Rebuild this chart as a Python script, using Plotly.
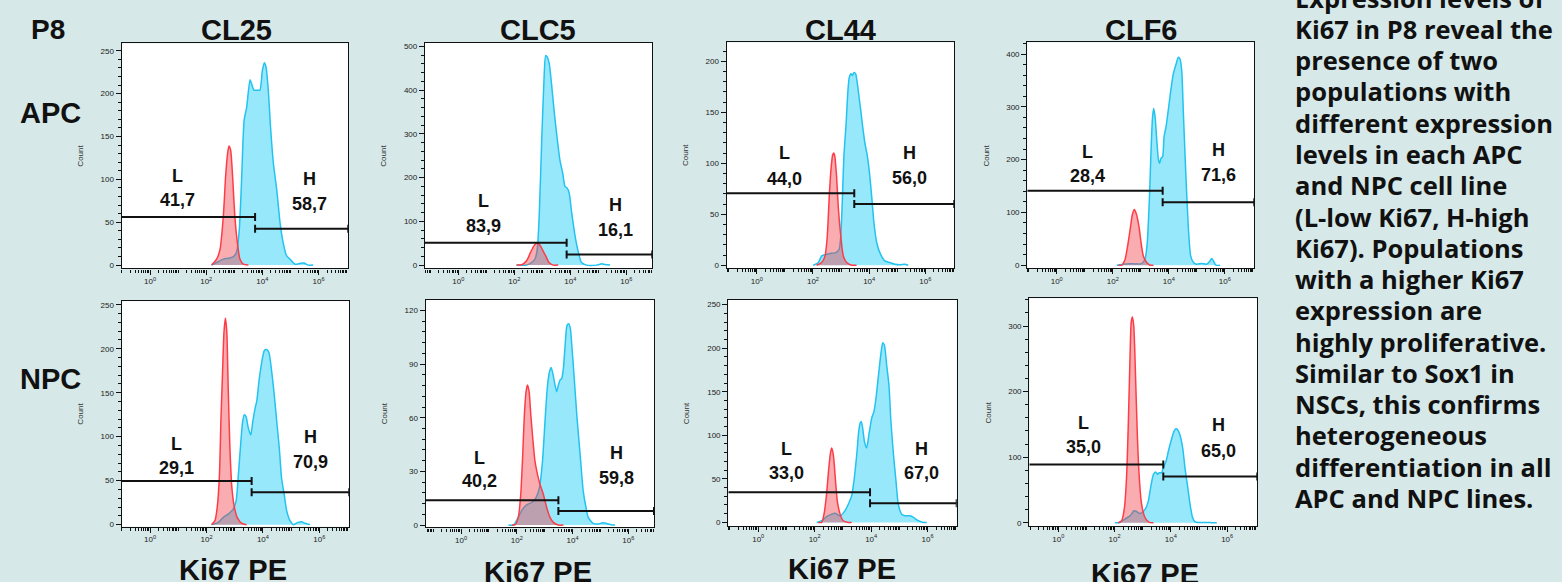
import plotly.graph_objects as go

W, H = 1562, 582
BG = "#d6e8e8"

# ---------------- data (x in log10 units of Ki67 PE, y = count) ----------------
CL25_APC_RED_LOGX = [2.19, 2.37, 2.49, 2.61, 2.69, 2.76, 2.81, 2.87, 2.94, 3.02, 3.11, 3.20, 3.32, 3.50]
CL25_APC_RED_COUNT = [0, 7, 18, 57, 103, 130, 139, 134, 103, 57, 26, 7, 1, 0]
CL25_APC_BLUE_LOGX = [2.19, 2.37, 2.61, 2.79, 2.97, 3.08, 3.18, 3.26, 3.35, 3.44, 3.56, 3.62, 3.70, 3.80, 3.91,
                      4.00, 4.07, 4.13, 4.21, 4.29, 4.39, 4.51, 4.63, 4.74, 4.86, 4.98, 5.16, 5.34, 5.48, 5.63, 5.81]
CL25_APC_BLUE_COUNT = [0, 3, 7, 8, 10, 15, 42, 100, 169, 184, 216, 211, 204, 204, 204,
                       227, 236, 231, 204, 161, 119, 88, 49, 26, 11, 7, 1, 2, 2.5, 0, 0]

CL25_NPC_RED_LOGX = [2.18, 2.30, 2.38, 2.46, 2.51, 2.57, 2.62, 2.67, 2.72, 2.77, 2.83, 2.90, 2.99, 3.09, 3.25, 3.42]
CL25_NPC_RED_COUNT = [0, 4.5, 19.6, 57, 117, 174, 219, 235, 219, 155, 87, 42, 19.6, 8, 1.5, 0]
CL25_NPC_BLUE_LOGX = [2.18, 2.42, 2.60, 2.77, 2.95, 3.05, 3.13, 3.21, 3.28, 3.34, 3.40, 3.48, 3.57, 3.64, 3.72, 3.78, 3.86,
                      3.96, 4.05, 4.13, 4.21, 4.31, 4.40, 4.49, 4.58, 4.66, 4.75, 4.84, 4.96, 5.08, 5.25, 5.37, 5.49, 5.67]
CL25_NPC_BLUE_COUNT = [0, 2.6, 8.3, 12, 17.7, 27, 57, 91, 117, 125, 123, 110, 102, 117, 132, 140, 163,
                       185, 198, 199, 196, 174, 148, 117, 87, 53, 35, 16, 4.5, 0, 2.6, 3.4, 1.5, 0]

CLC5_APC_RED_LOGX = [2.08, 2.26, 2.44, 2.58, 2.70, 2.80, 2.89, 3.00, 3.12, 3.24, 3.39, 3.57]
CLC5_APC_RED_COUNT = [0, 1, 10, 29, 44, 50, 48, 36, 21, 6, 0, 0]
CLC5_APC_BLUE_LOGX = [2.08, 2.44, 2.62, 2.74, 2.82, 2.89, 2.98, 3.06, 3.12, 3.18, 3.25, 3.33, 3.42, 3.51, 3.63, 3.73,
                      3.81, 3.89, 3.96, 4.05, 4.17, 4.29, 4.40, 4.58, 4.94, 5.12, 5.24, 5.42]
CLC5_APC_BLUE_COUNT = [0, 0, 6, 14, 36, 112, 286, 422, 479, 475, 460, 414, 354, 301, 240, 210,
                       180, 176, 165, 120, 67, 29, 6, 0, 0, 3, 1.5, 0]

CLC5_NPC_RED_LOGX = [1.82, 1.94, 2.05, 2.14, 2.21, 2.27, 2.33, 2.38, 2.44, 2.50, 2.57, 2.65, 2.74, 2.83, 2.95,
                     3.07, 3.19, 3.31, 3.49, 3.67]
CLC5_NPC_RED_COUNT = [0, 0.2, 4.3, 17.2, 39.4, 61.7, 74.6, 78.3, 74.6, 61.7, 48.7, 35.7, 28.3, 22.8, 17.2,
                      9.8, 4.3, 1.5, 0, 0]
CLC5_NPC_BLUE_LOGX = [1.70, 1.88, 2.05, 2.17, 2.35, 2.53, 2.69, 2.81, 2.92, 3.01, 3.09, 3.17, 3.23, 3.29, 3.37, 3.43,
                      3.49, 3.55, 3.61, 3.67, 3.74, 3.80, 3.86, 3.92, 3.98, 4.05, 4.15, 4.27, 4.38, 4.48, 4.56,
                      4.74, 4.92, 5.08, 5.22, 5.38, 5.52]
CLC5_NPC_BLUE_COUNT = [0, 0, 4.3, 8, 11.3, 12.6, 15.4, 20.9, 35.7, 58, 76.5, 85.7, 88.1, 84.8, 78.3, 74.6,
                       78.3, 81.1, 82, 87.6, 102.4, 111.7, 112.6, 109.8, 98.7, 83.9, 61.7, 39.4, 19.1, 9.8, 4.3,
                       0.9, 0.6, 1.3, 0.9, 0.2, 0]

CL44_APC_RED_LOGX = [2.13, 2.31, 2.43, 2.51, 2.58, 2.64, 2.70, 2.74, 2.78, 2.84, 2.90, 2.99, 3.08, 3.20, 3.38, 3.55]
CL44_APC_RED_COUNT = [0, 2.6, 9.1, 28.6, 67.5, 93.5, 108, 110, 106.5, 87, 57.8, 28.6, 9.1, 2.6, 0, 0]
CL44_APC_BLUE_LOGX = [2.01, 2.19, 2.31, 2.49, 2.67, 2.82, 2.93, 2.99, 3.05, 3.10, 3.18, 3.23, 3.29, 3.35, 3.40, 3.46,
                      3.52, 3.58, 3.64, 3.70, 3.77, 3.85, 3.93, 4.00, 4.09, 4.17, 4.27, 4.38, 4.56, 4.74, 4.92,
                      5.09, 5.27, 5.39]
CL44_APC_BLUE_COUNT = [0, 2.6, 9.1, 10.7, 11.7, 12.3, 15.6, 28.6, 67.5, 106.5, 139, 165, 184, 187.7, 186, 189,
                       187.7, 178, 165, 152, 135.7, 119.5, 108, 93.5, 67.5, 41.6, 22, 12.3, 4.2, 2.6, 1,
                       0.5, 1, 0]

CL44_NPC_RED_LOGX = [2.13, 2.25, 2.33, 2.42, 2.49, 2.55, 2.60, 2.66, 2.73, 2.80, 2.90, 3.01, 3.19, 3.31]
CL44_NPC_RED_COUNT = [0, 0, 9.5, 32.3, 58.9, 77.9, 85.5, 77.9, 51.3, 24.7, 9.5, 1.9, 0, 0]
CL44_NPC_BLUE_LOGX = [2.07, 2.25, 2.42, 2.60, 2.72, 2.90, 3.07, 3.19, 3.31, 3.39, 3.49, 3.56, 3.61, 3.65, 3.70, 3.76,
                      3.84, 3.92, 4.02, 4.10, 4.17, 4.26, 4.34, 4.41, 4.47, 4.55, 4.63, 4.70, 4.79, 4.88, 4.96,
                      5.08, 5.20, 5.38, 5.50, 5.67, 5.85, 5.97]
CL44_NPC_BLUE_COUNT = [0, 1.9, 6.5, 9.5, 10.6, 7.6, 13.3, 20.9, 30.4, 47.5, 77.9, 104.5, 114, 115.9, 108.3, 93.1,
                       85.5, 100.7, 119.7, 127.3, 142.5, 169.1, 191.9, 206.3, 203.3, 180.5, 157.7, 115.9, 77.9, 47.5,
                       20.9, 9.5, 7.6, 7.6, 5.7, 1.9, 0, 0]

CLF6_APC_RED_LOGX = [2.20, 2.32, 2.44, 2.53, 2.62, 2.70, 2.77, 2.83, 2.89, 2.95, 3.01, 3.09, 3.21, 3.33, 3.45]
CLF6_APC_RED_COUNT = [0, 0, 11.3, 36.4, 67.7, 95.9, 105.3, 99, 86.5, 67.7, 42.6, 17.6, 5, 0, 0]
CLF6_APC_BLUE_LOGX = [2.14, 2.32, 2.62, 2.85, 3.03, 3.15, 3.23, 3.31, 3.37, 3.42, 3.46, 3.51, 3.57, 3.63, 3.67, 3.72,
                      3.78, 3.83, 3.90, 3.98, 4.07, 4.16, 4.26, 4.34, 4.40, 4.46, 4.52, 4.60, 4.70, 4.78, 4.88,
                      4.99, 5.17, 5.35, 5.47, 5.53, 5.59, 5.68, 5.83]
CLF6_APC_BLUE_COUNT = [0, 1.5, 2.5, 2.5, 3, 11.3, 42.6, 130.4, 224.5, 281, 296.6, 281, 237, 199.4, 193, 202.5,
                       205.7, 243.3, 262, 293.4, 331, 362.4, 381.2, 393.8, 390.6, 368.7, 287.2, 180.6, 67.7, 17.6, 5,
                       1.9, 3.1, 1.9, 8.2, 12.5, 8.2, 0, 0]

CLF6_NPC_RED_LOGX = [2.13, 2.25, 2.35, 2.43, 2.49, 2.55, 2.59, 2.63, 2.68, 2.74, 2.80, 2.87, 2.96, 3.08, 3.23, 3.38]
CLF6_NPC_RED_COUNT = [0, 3, 23.2, 73.7, 154.5, 255.5, 306, 313.6, 301, 230, 144.4, 73.7, 28.3, 8, 0.5, 0]
CLF6_NPC_BLUE_LOGX = [2.01, 2.19, 2.37, 2.55, 2.69, 2.78, 2.90, 3.02, 3.12, 3.20, 3.28, 3.38, 3.46, 3.53, 3.59, 3.67,
                      3.73, 3.83, 3.91, 4.00, 4.11, 4.18, 4.24, 4.32, 4.42, 4.50, 4.60, 4.68, 4.77, 4.86, 4.98,
                      5.15, 5.33, 5.45, 5.63]
CLF6_NPC_BLUE_COUNT = [0, 0.5, 5.6, 10.6, 18.2, 17.2, 14.1, 17.2, 23.2, 33.3, 53.5, 73.7, 77.3, 73.7, 76.3, 76.3,
                       83.8, 94, 109, 124, 139.4, 143.4, 142, 134.3, 114, 83.8, 53.5, 28.3, 8, 1.5, 0.5,
                       0.5, 0.5, 0, 0]

# gates: threshold (log10), L gate level, H gate level
GATE_THRESHOLD_LOG = [3.74, 3.60, 3.87, 3.49, 3.47, 3.96, 3.78, 3.73]
GATE_L_LEVEL = [56, 49.7, 51.4, 13.9, 70.5, 34.6, 141, 88.9]
GATE_H_LEVEL = [42.4, 36.9, 24.2, 7.8, 60, 22, 119, 70.7]
PCT_L = ["41,7", "29,1", "83,9", "40,2", "44,0", "33,0", "28,4", "35,0"]
PCT_H = ["58,7", "70,9", "16,1", "59,8", "56,0", "67,0", "71,6", "65,0"]

CELL_LINES = ["CL25", "CLC5", "CL44", "CLF6"]
ROW_LABELS = ["APC", "NPC"]
X_TITLE = "Ki67 PE"
X_TICK_DECADES = [0, 2, 4, 6]

PARAGRAPH = ["Expression levels of", "Ki67 in P8 reveal the", "presence of two", "populations with",
             "different expression", "levels in each APC", "and NPC cell line", "(L-low Ki67, H-high",
             "Ki67). Populations", "with a higher Ki67", "expression are", "highly proliferative.",
             "Similar to Sox1 in", "NSCs, this confirms", "heterogeneous", "differentiation in all",
             "APC and NPC lines."]

RED = [(CL25_APC_RED_LOGX, CL25_APC_RED_COUNT), (CL25_NPC_RED_LOGX, CL25_NPC_RED_COUNT),
       (CLC5_APC_RED_LOGX, CLC5_APC_RED_COUNT), (CLC5_NPC_RED_LOGX, CLC5_NPC_RED_COUNT),
       (CL44_APC_RED_LOGX, CL44_APC_RED_COUNT), (CL44_NPC_RED_LOGX, CL44_NPC_RED_COUNT),
       (CLF6_APC_RED_LOGX, CLF6_APC_RED_COUNT), (CLF6_NPC_RED_LOGX, CLF6_NPC_RED_COUNT)]
BLUE = [(CL25_APC_BLUE_LOGX, CL25_APC_BLUE_COUNT), (CL25_NPC_BLUE_LOGX, CL25_NPC_BLUE_COUNT),
        (CLC5_APC_BLUE_LOGX, CLC5_APC_BLUE_COUNT), (CLC5_NPC_BLUE_LOGX, CLC5_NPC_BLUE_COUNT),
        (CL44_APC_BLUE_LOGX, CL44_APC_BLUE_COUNT), (CL44_NPC_BLUE_LOGX, CL44_NPC_BLUE_COUNT),
        (CLF6_APC_BLUE_LOGX, CLF6_APC_BLUE_COUNT), (CLF6_NPC_BLUE_LOGX, CLF6_NPC_BLUE_COUNT)]

# ---------------- layout specs (pixel boxes, axis ranges) ----------------
PANELS = [
    dict(box=(121.7, 348.3, 42.7, 269.3), xr=(-1.008, 7.058), yr=(-3.9, 258.5), dt=50, mdt=10,
         lpos=(177.7, 176.7, 200), hpos=(309, 179, 204)),
    dict(box=(121.7, 349.3, 302.3, 529.3), xr=(-1.004, 7.06), yr=(-2.3, 254), dt=50, mdt=10,
         lpos=(176.7, 446, 470), hpos=(310, 439.3, 464)),
    dict(box=(425, 652.3, 42.3, 269.3), xr=(-1.19, 6.93), yr=(-7.6, 507.5), dt=100, mdt=20,
         lpos=(483.3, 201, 226.7), hpos=(615, 205.7, 230.7)),
    dict(box=(425.7, 654, 301, 530), xr=(-1.27, 6.92), yr=(-1.3, 125.9), dt=30, mdt=6,
         lpos=(480, 460, 483.3), hpos=(616.7, 455, 480)),
    dict(box=(726.7, 954.3, 41.7, 269), xr=(-1.07, 7.03), yr=(-2.9, 218.5), dt=50, mdt=10,
         lpos=(784, 153.3, 179.3), hpos=(909.3, 153.3, 178.3)),
    dict(box=(728.3, 956.7, 300.7, 528.7), xr=(-1.06, 7.03), yr=(-4.2, 255.7), dt=50, mdt=10,
         lpos=(786, 451, 475.7), hpos=(921.7, 451, 475.7)),
    dict(box=(1027.3, 1254.3, 41.7, 269), xr=(-1.05, 7.05), yr=(-5.6, 422), dt=100, mdt=20,
         lpos=(1087.7, 151.7, 176.7), hpos=(1218.3, 150, 175.7)),
    dict(box=(1029.3, 1257.3, 299.3, 528.7), xr=(-1.03, 7.07), yr=(-5.05, 342.4), dt=100, mdt=20,
         lpos=(1083.3, 425, 449.3), hpos=(1218.3, 426.7, 452.7)),
]

FONT = "Arial, Liberation Sans, sans-serif"


def px(x):
    return x / W


def py(y):
    return 1 - y / H


fig = go.Figure()
layout = dict(width=W, height=H, margin=dict(l=0, r=0, t=0, b=0), paper_bgcolor=BG,
              plot_bgcolor="white", showlegend=False, font=dict(family=FONT, color="#111"))
shapes = []
annotations = []

major_vals = [10.0 ** k for k in X_TICK_DECADES]
major_text = [f"10<sup>{k}</sup>" for k in X_TICK_DECADES]
minor_vals = [m * 10.0 ** k for k in range(-2, 8) for m in range(1, 10)
              if not (m == 1 and k in X_TICK_DECADES)]

for i, p in enumerate(PANELS):
    n = i + 1
    xa = "x" if n == 1 else f"x{n}"
    ya = "y" if n == 1 else f"y{n}"
    x0, x1, y0, y1 = p["box"]

    bx, bc = BLUE[i]
    fig.add_trace(go.Scatter(x=[10 ** v for v in bx], y=bc, mode="lines", fill="tozeroy",
                             fillcolor="rgba(152,232,252,1)",
                             line=dict(color="#22c3f0", width=1.5, shape="spline", smoothing=0.6),
                             xaxis=xa, yaxis=ya, hoverinfo="skip"))
    rx, rc = RED[i]
    fig.add_trace(go.Scatter(x=[10 ** v for v in rx], y=rc, mode="lines", fill="tozeroy",
                             fillcolor="rgba(240,60,70,0.42)",
                             line=dict(color="#ff3c46", width=1.5, shape="spline", smoothing=0.6),
                             xaxis=xa, yaxis=ya, hoverinfo="skip"))

    layout["xaxis" if n == 1 else f"xaxis{n}"] = dict(
        type="log", domain=[px(x0), px(x1)], range=list(p["xr"]), anchor=ya,
        tickmode="array", tickvals=major_vals, ticktext=major_text,
        ticks="outside", ticklen=5, tickwidth=1, tickcolor="#111",
        showline=True, linecolor="#111", linewidth=1.3, mirror=True,
        showgrid=False, zeroline=False, tickfont=dict(size=8, color="#222", family=FONT),
        minor=dict(tickmode="array", tickvals=minor_vals, ticks="outside", ticklen=3,
                   tickcolor="#111", tickwidth=1, showgrid=False),
        fixedrange=True)
    layout["yaxis" if n == 1 else f"yaxis{n}"] = dict(
        domain=[py(y1), py(y0)], range=list(p["yr"]), anchor=xa,
        tickmode="linear", tick0=0, dtick=p["dt"],
        ticks="outside", ticklen=5, tickwidth=1, tickcolor="#111",
        showline=True, linecolor="#111", linewidth=1.3, mirror=True,
        showgrid=False, zeroline=False, tickfont=dict(size=8, color="#222", family=FONT),
        minor=dict(dtick=p["mdt"], tick0=0, ticks="outside", ticklen=3, tickcolor="#111",
                   tickwidth=1, showgrid=False),
        fixedrange=True)

    # gates
    thr = 10 ** GATE_THRESHOLD_LOG[i]
    lo, hi = 10 ** p["xr"][0], 10 ** p["xr"][1]
    gl, gh = GATE_L_LEVEL[i], GATE_H_LEVEL[i]
    ln = dict(color="#111", width=2)
    shapes.append(dict(type="line", xref=xa, yref=ya, x0=lo, x1=thr, y0=gl, y1=gl, line=ln))
    shapes.append(dict(type="line", xref=xa, yref=ya, x0=thr, x1=hi, y0=gh, y1=gh, line=ln))
    for xc, yc in [(thr, gl), (thr, gh), (hi, gh)]:
        shapes.append(dict(type="line", xref=xa, yref=ya, x0=xc, x1=xc, ysizemode="pixel",
                           yanchor=yc, y0=-4, y1=4, line=ln))

    # gate labels
    lx, ly1, ly2 = p["lpos"]
    hx, hy1, hy2 = p["hpos"]
    for tx, ty, t in [(lx, ly1, "L"), (lx, ly2, PCT_L[i]), (hx, hy1, "H"), (hx, hy2, PCT_H[i])]:
        annotations.append(dict(xref="paper", yref="paper", x=px(tx), y=py(ty), text=f"<b>{t}</b>",
                                showarrow=False, xanchor="center", yanchor="middle",
                                font=dict(size=18, color="#111", family=FONT)))

    # y-axis title
    annotations.append(dict(xref="paper", yref="paper", x=px(x0 - 41), y=py((y0 + y1) / 2), text="Count",
                            textangle=-90, showarrow=False, xanchor="center", yanchor="middle",
                            font=dict(size=8, color="#333", family=FONT)))

# column titles, row labels, x titles
for j, name in enumerate(CELL_LINES):
    cx = [236, 538, 840, 1141][j]
    annotations.append(dict(xref="paper", yref="paper", x=px(cx), y=py(29), text=f"<b>{name}</b>",
                            showarrow=False, xanchor="center", yanchor="middle",
                            font=dict(size=29, color="#111", family=FONT)))
    xty = [573, 575, 572, 577][j]
    xtx = [233, 538, 842, 1145][j]
    annotations.append(dict(xref="paper", yref="paper", x=px(xtx), y=py(xty), text=f"<b>{X_TITLE}</b>",
                            showarrow=False, xanchor="center", yanchor="middle",
                            font=dict(size=29, color="#111", family=FONT)))

annotations.append(dict(xref="paper", yref="paper", x=px(48), y=py(29), text="<b>P8</b>", showarrow=False,
                        xanchor="center", yanchor="middle", font=dict(size=28, color="#111", family=FONT)))
for lab, yy in zip(ROW_LABELS, [112.5, 380.5]):
    annotations.append(dict(xref="paper", yref="paper", x=px(50), y=py(yy), text=f"<b>{lab}</b>",
                            showarrow=False, xanchor="center", yanchor="middle",
                            font=dict(size=29, color="#111", family=FONT)))

for k, line in enumerate(PARAGRAPH):
    annotations.append(dict(xref="paper", yref="paper", x=px(1293), y=py(-3.5 + 31.5 * k), text=f"<b>{line}</b>",
                            showarrow=False, xanchor="left", yanchor="middle",
                            font=dict(size=25.5, color="#111", family="Open Sans, sans-serif")))

layout["shapes"] = shapes
layout["annotations"] = annotations
fig.update_layout(**layout)
fig.write_html("out.html", config={"displayModeBar": False},
               post_script="document.body.style.margin='0';document.body.style.overflow='hidden';")
